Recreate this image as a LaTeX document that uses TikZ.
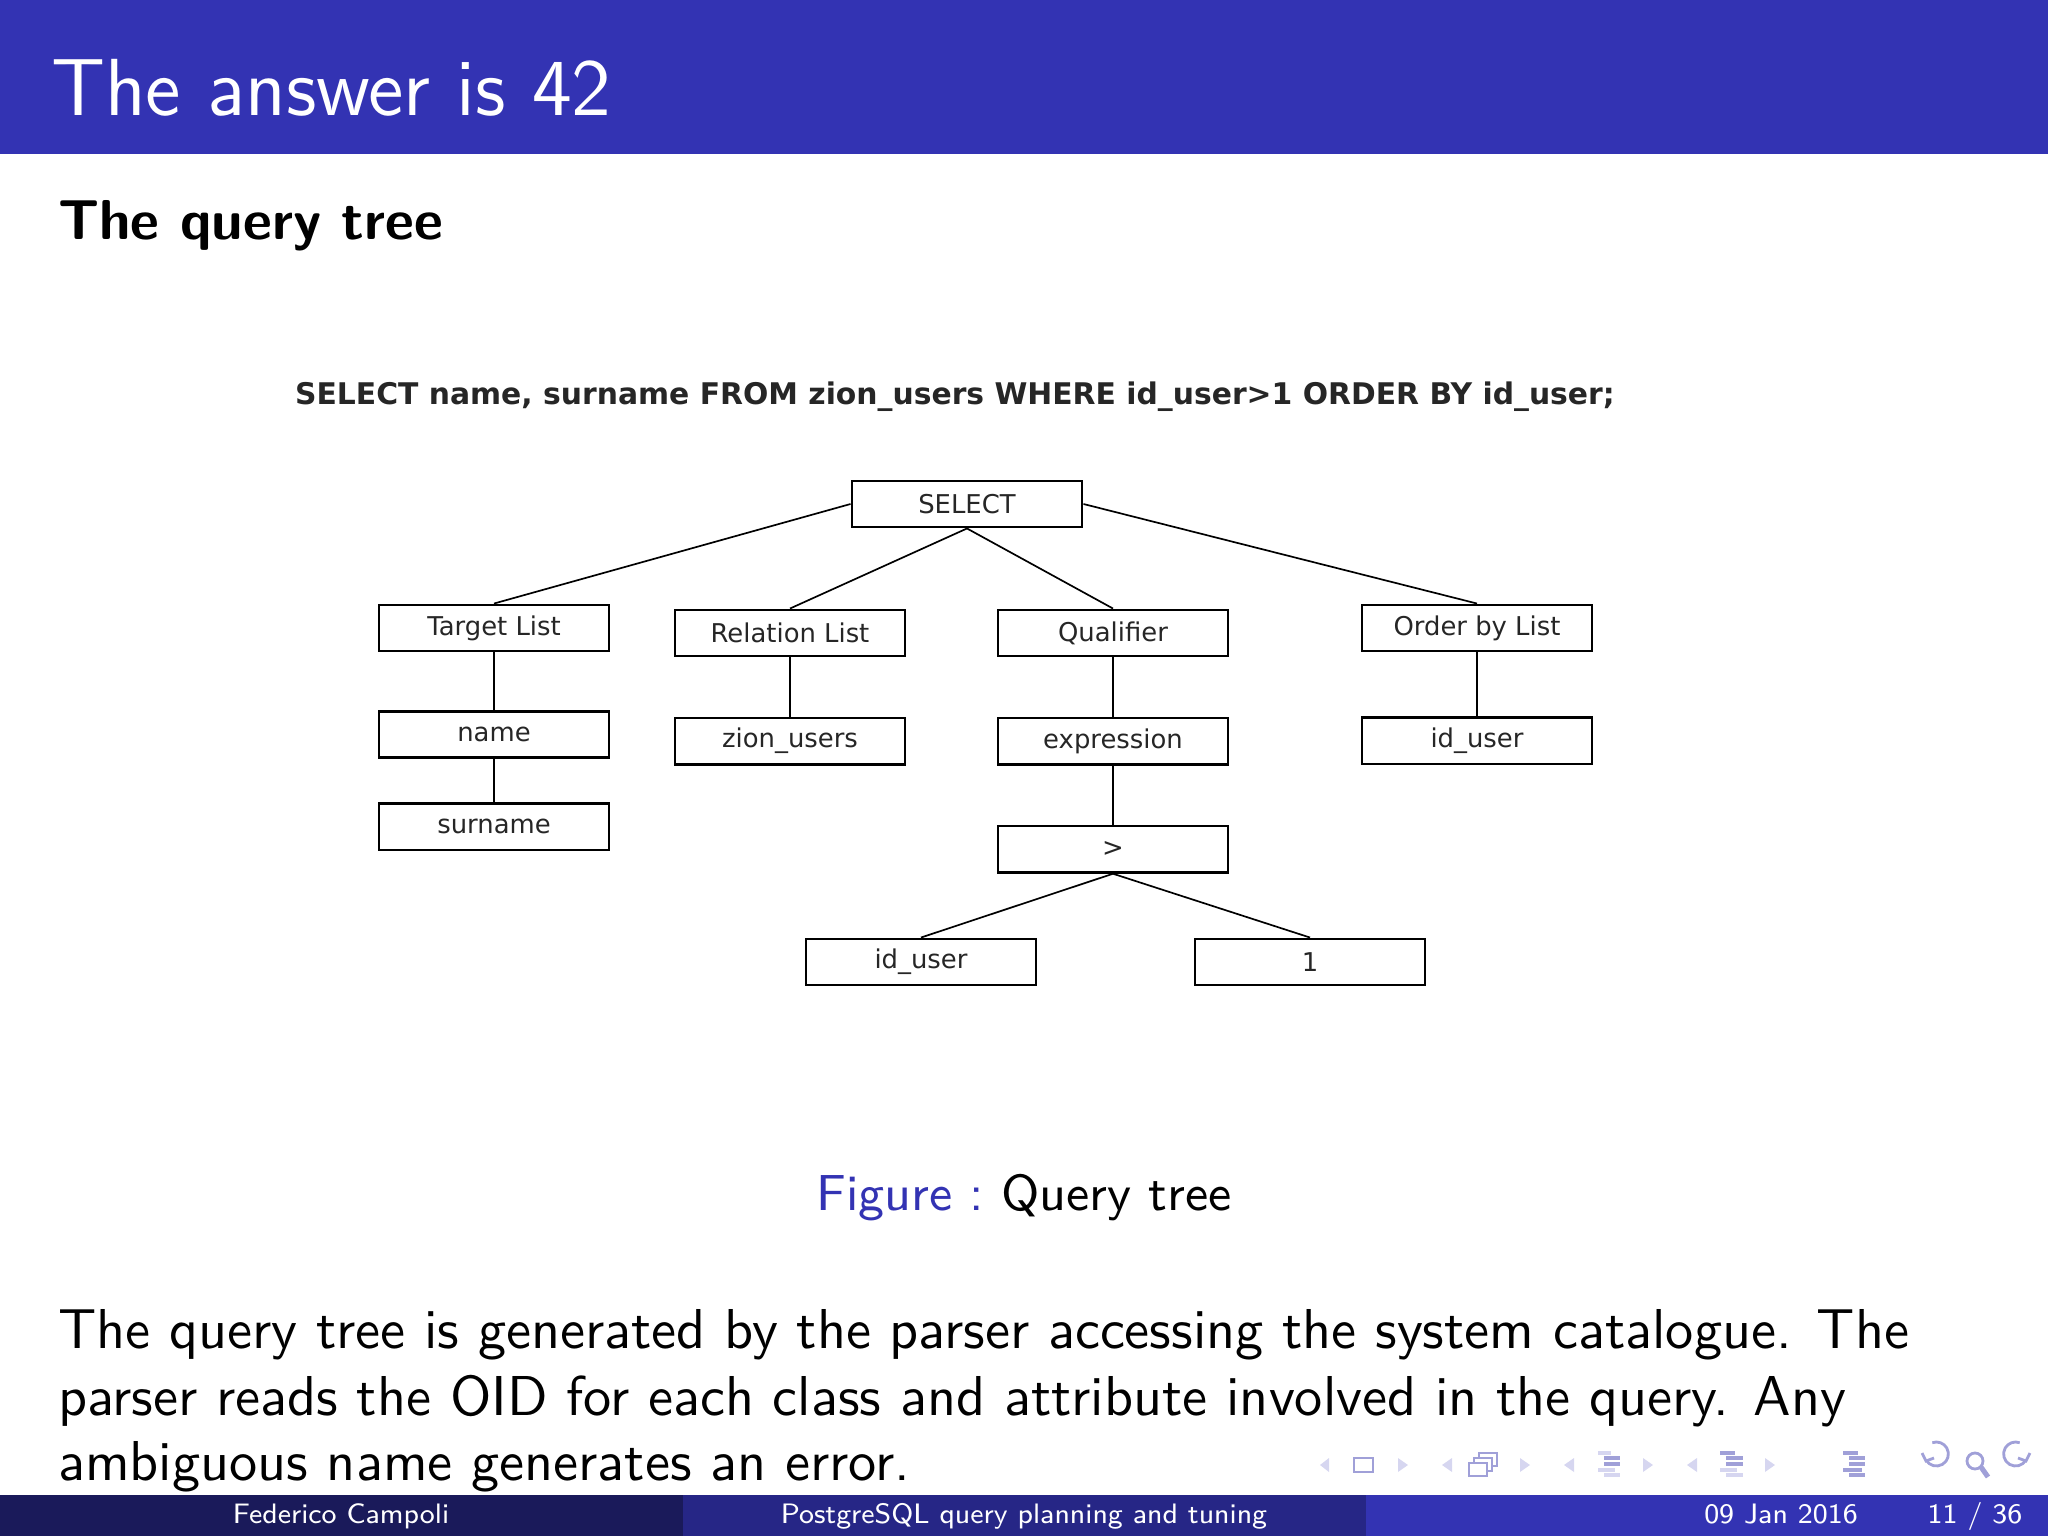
\documentclass[tikz,border=0pt]{standalone}
\usepackage{fontspec}
\newfontfamily\diafont{DejaVu Sans}
\usepackage{tikz}
\usetikzlibrary{positioning}

\definecolor{struct}{RGB}{51,51,179}
\definecolor{footdark}{RGB}{26,26,90}
\definecolor{footmid}{RGB}{38,38,134}
\definecolor{navfg}{RGB}{160,160,216}
\definecolor{navdim}{RGB}{214,214,240}

\begin{document}
\begin{tikzpicture}[
    x=0.0625mm, y=-0.0625mm,
    font=\sffamily,
    box/.style={draw, line width=0.45pt, minimum width=14.4mm, minimum height=2.9mm,
                inner sep=0pt, font=\diafont\fontsize{4.6}{5}\selectfont, text=black!85},
    edge/.style={line width=0.3pt},
    navtri/.style={fill=navdim},
    navbar/.style={line width=0.55pt, draw=navfg},
    foot/.style={font=\sffamily\fontsize{5}{6}\selectfont, text=white, anchor=base}
]
\useasboundingbox (0,0) rectangle (2048,1536);

% Header
\fill[struct] (0,0) rectangle (2048,154);
\node[anchor=base west, inner sep=0pt, text=white, font=\sffamily\fontsize{14.4}{17}\selectfont]
    (title) at (50,115) {The answer is 42};
\node[anchor=base west, inner sep=0pt, font=\sffamily\bfseries\fontsize{10}{12}\selectfont]
    (subtitle) at (57,239) {The query tree};

% Query
\node[inner sep=0pt, font=\diafont\bfseries\fontsize{5.3}{6}\selectfont, text=black!85] (query) at (955,397)
    {SELECT name, surname FROM zion\_users WHERE id\_user>1 ORDER BY id\_user;};

% Tree
\node[box] (select) at (967,504) {SELECT};
\node[box] (target) at (494,628) {Target List};
\node[box] (relation) at (790,633) {Relation List};
\node[box] (qualifier) at (1113,633) {Qualifier};
\node[box] (orderby) at (1477,628) {Order by List};

\node[box, below=3.6mm of target] (name) {name};
\node[box, below=2.7mm of name] (surname) {surname};
\node[box, below=3.7mm of relation] (zion) {zion\_users};
\node[box, below=3.7mm of qualifier] (expr) {expression};
\node[box, below=3.7mm of expr] (gt) {>};
\node[box, below=4mm of orderby] (orderuser) {id\_user};
\node[box] (leftuser) at (921,962) {id\_user};
\node[box] (one) at (1310,962) {1};

\draw[edge] (select.west) -- (target.north);
\draw[edge] (select.south) -- (relation.north);
\draw[edge] (select.south) -- (qualifier.north);
\draw[edge] (select.east) -- (orderby.north);
\draw[edge] (target) -- (name);
\draw[edge] (name) -- (surname);
\draw[edge] (relation) -- (zion);
\draw[edge] (qualifier) -- (expr);
\draw[edge] (expr) -- (gt);
\draw[edge] (orderby) -- (orderuser);
\draw[edge] (gt.south) -- (leftuser.north);
\draw[edge] (gt.south) -- (one.north);

% Caption
\node[anchor=base, inner sep=0pt, font=\sffamily\fontsize{9}{11}\selectfont] (caption) at (1024,1210)
    {\textcolor{struct}{Figure :}~Query tree};

% Body text
\node[anchor=base west, inner sep=0pt, font=\sffamily\fontsize{10}{12}\selectfont] (linea) at (57,1348)
    {The query tree is generated by the parser accessing the system catalogue.  The};
\node[anchor=base west, inner sep=0pt, font=\sffamily\fontsize{10}{12}\selectfont] (lineb) at (57,1415)
    {parser reads the OID for each class and attribute involved in the query.  Any};
\node[anchor=base west, inner sep=0pt, font=\sffamily\fontsize{10}{12}\selectfont] (linec) at (57,1480)
    {ambiguous name generates an error.};

% Navigation symbols
\fill[navtri] (1329,1458) -- (1320,1465) -- (1329,1472) -- cycle;
\draw[navfg, line width=0.5pt] (1354,1458) rectangle (1373,1472);
\fill[navtri] (1398,1458) -- (1408,1465) -- (1398,1472) -- cycle;
\fill[navtri] (1452,1458) -- (1442,1465) -- (1452,1472) -- cycle;
\draw[navfg, line width=0.5pt, fill=white] (1479,1453) rectangle (1497,1466);
\draw[navfg, line width=0.5pt, fill=white] (1474,1458) rectangle (1492,1471);
\draw[navfg, line width=0.5pt, fill=white] (1469,1463) rectangle (1487,1476);
\fill[navtri] (1520,1458) -- (1530,1465) -- (1520,1472) -- cycle;
\fill[navtri] (1574,1458) -- (1564,1465) -- (1574,1472) -- cycle;
\draw[navbar, draw=navdim] (1598,1453) -- (1611,1453);
\draw[navbar] (1604,1458) -- (1620,1458);
\draw[navbar] (1604,1464) -- (1620,1464);
\draw[navbar, draw=navdim] (1598,1470) -- (1615,1470);
\draw[navbar, draw=navdim] (1604,1475) -- (1620,1475);
\fill[navtri] (1643,1458) -- (1653,1465) -- (1643,1472) -- cycle;
\fill[navtri] (1697,1458) -- (1687,1465) -- (1697,1472) -- cycle;
\draw[navbar] (1720,1453) -- (1735,1453);
\draw[navbar] (1726,1458) -- (1743,1458);
\draw[navbar] (1726,1464) -- (1743,1464);
\draw[navbar, draw=navdim] (1720,1470) -- (1737,1470);
\draw[navbar, draw=navdim] (1726,1475) -- (1743,1475);
\fill[navtri] (1765,1458) -- (1775,1465) -- (1765,1472) -- cycle;
\draw[navbar] (1843,1453) -- (1858,1453);
\draw[navbar] (1849,1458) -- (1865,1458);
\draw[navbar] (1849,1464) -- (1865,1464);
\draw[navbar] (1843,1470) -- (1862,1470);
\draw[navbar] (1849,1475) -- (1865,1475);
\draw[navfg, line width=0.5pt] (1926,1460) arc[start angle=150, end angle=-110, radius=12];
\draw[navfg, line width=0.5pt] (1922,1453) -- (1926,1461) -- (1934,1458);
\draw[navfg, line width=0.5pt] (1975,1461) circle[radius=8];
\draw[navfg, line width=0.9pt] (1981,1467) -- (1988,1477);
\draw[navfg, line width=0.5pt] (2026,1460) arc[start angle=30, end angle=290, radius=12];
\draw[navfg, line width=0.5pt] (2030,1453) -- (2026,1461) -- (2018,1458);

% Footer
\fill[footdark] (0,1495) rectangle (683,1536);
\fill[footmid] (683,1495) rectangle (1366,1536);
\fill[struct] (1366,1495) rectangle (2048,1536);
\node[foot] (author) at (341,1523) {Federico Campoli};
\node[foot] (talk) at (1024,1523) {PostgreSQL query planning and tuning};
\node[foot] (date) at (1781,1523) {09 Jan 2016};
\node[foot] (page) at (1975,1523) {11 / 36};

\end{tikzpicture}
\end{document}
